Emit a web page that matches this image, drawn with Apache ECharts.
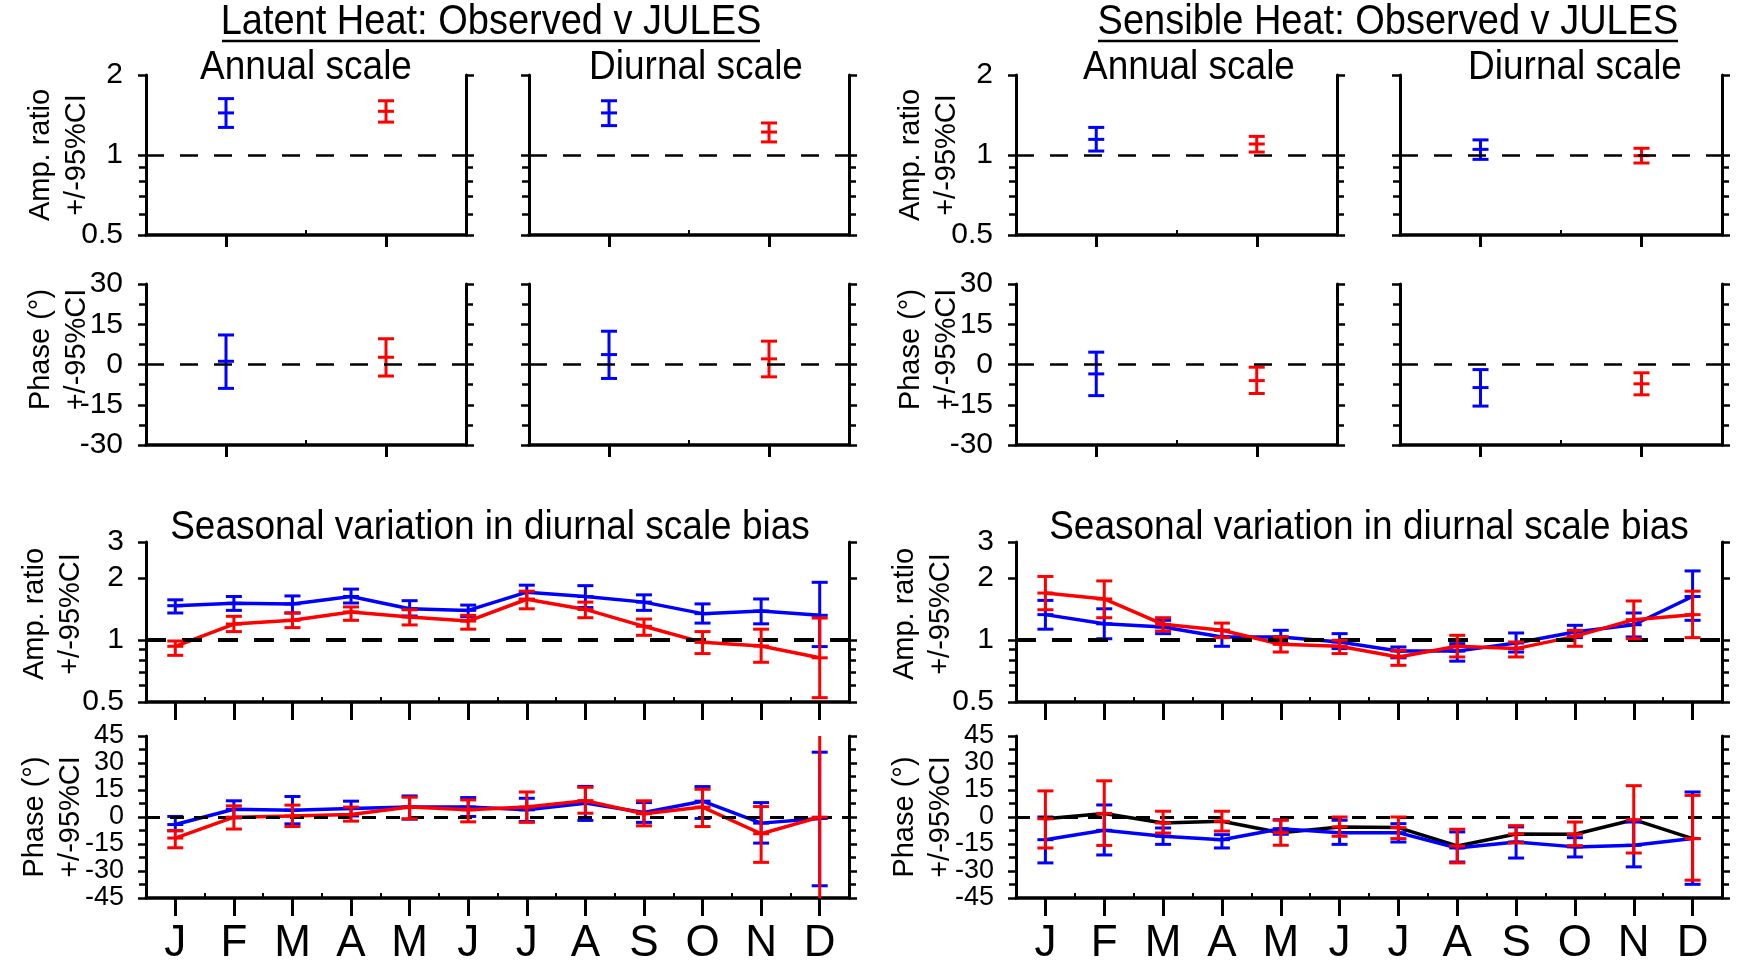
<!DOCTYPE html>
<html>
<head>
<meta charset="utf-8">
<script src="https://cdn.jsdelivr.net/npm/echarts@6/dist/echarts.min.js"></script>
<style>
html,body{margin:0;padding:0;background:#fff;}
#chart{width:1742px;height:963px;}
</style>
</head>
<body>
<div id="chart"></div>
<script>
// ---------------- DATA ----------------
const months = ['J','F','M','A','M','J','J','A','S','O','N','D'];
const topCats = ['Series 1','Series 2'];
const ampTicksTop = [0.5, 1, 2];
const ampTicksBottom = [0.5, 1, 2, 3];
const ampMinorTicks = [0.6, 0.7, 0.8, 0.9];
const phaseTicksTop = [-30, -15, 0, 15, 30];
const phaseTicksBottom = [-45, -30, -15, 0, 15, 30, 45];

// top panels: [centre, lower 95%CI, upper 95%CI]
const latAnnAmpBlue = [1.44, 1.27, 1.63];
const latAnnAmpRed  = [1.46, 1.33, 1.60];
const latDiuAmpBlue = [1.44, 1.29, 1.60];
const latDiuAmpRed  = [1.22, 1.12, 1.32];
const latAnnPhBlue  = [1.2, -8.9, 11.0];
const latAnnPhRed   = [2.7, -4.3, 9.6];
const latDiuPhBlue  = [3.7, -5.2, 12.4];
const latDiuPhRed   = [2.1, -4.6, 8.7];

const senAnnAmpBlue = [1.145, 1.035, 1.27];
const senAnnAmpRed  = [1.10, 1.026, 1.175];
const senDiuAmpBlue = [1.05, 0.963, 1.14];
const senDiuAmpRed  = [0.994, 0.933, 1.06];
const senAnnPhBlue  = [-3.5, -11.6, 4.6];
const senAnnPhRed   = [-6.0, -10.8, -1.0];
const senDiuPhBlue  = [-8.6, -15.5, -1.9];
const senDiuPhRed   = [-7.2, -11.3, -3.1];

// seasonal panels: per month [centre, lower, upper]
const latSeasAmpBlue = [[1.47,1.355,1.57],[1.51,1.395,1.63],[1.50,1.355,1.64],[1.63,1.515,1.77],[1.42,1.31,1.555],[1.395,1.30,1.48],[1.71,1.58,1.85],[1.63,1.44,1.84],[1.53,1.395,1.66],[1.345,1.21,1.50],[1.385,1.20,1.585],[1.32,0.93,1.91]];
const latSeasAmpRed  = [[0.933,0.843,0.99],[1.197,1.10,1.305],[1.248,1.15,1.355],[1.37,1.248,1.45],[1.295,1.185,1.405],[1.238,1.13,1.32],[1.58,1.42,1.73],[1.41,1.285,1.53],[1.167,1.055,1.266],[0.975,0.86,1.10],[0.936,0.78,1.13],[0.82,0.525,1.28]];
const latSeasPhBlue  = [[-4.2,-7.7,0.3],[4.3,-0.5,9.0],[3.8,-3.8,11.4],[4.7,0.6,8.8],[5.5,-1.2,11.7],[5.5,0.3,10.8],[4.0,-2.5,10.4],[7.7,-1.9,17.0],[2.5,-3.0,8.0],[8.8,-0.8,16.9],[-3.4,-14.5,8.0],[-0.8,-38.2,36.0]];
const latSeasPhRed   = [[-11.7,-17.1,-7.5],[-0.1,-6.7,6.2],[0.6,-5.3,6.6],[1.4,-2.3,5.5],[5.5,-1.0,11.0],[4.0,-2.7,9.5],[5.5,-3.0,13.9],[9.1,2.1,16.5],[1.8,-4.9,9.0],[5.5,-5.3,15.4],[-9.3,-25.2,5.8],[-0.1,-50,50]];

const senSeasAmpBlue = [[1.33,1.13,1.56],[1.20,1.015,1.42],[1.158,1.075,1.248],[1.036,0.933,1.116],[1.036,0.961,1.116],[0.979,0.909,1.075],[0.885,0.82,0.926],[0.884,0.79,0.961],[0.968,0.875,1.083],[1.095,1.028,1.18],[1.188,1.036,1.355],[1.63,1.248,2.17]];
const senSeasAmpRed  = [[1.694,1.405,2.04],[1.585,1.285,1.94],[1.193,1.107,1.285],[1.116,1.028,1.21],[0.954,0.875,1.036],[0.933,0.86,0.998],[0.828,0.754,0.892],[0.933,0.828,1.055],[0.909,0.828,0.979],[1.043,0.933,1.116],[1.257,1.015,1.55],[1.33,1.028,1.73]];
const senSeasPhBlue  = [[-12.6,-25.5,0],[-7.4,-21.1,6.7],[-10.7,-15.2,-6.1],[-12.6,-17.2,-9.8],[-6.5,-9.6,-1.5],[-8.7,-15.2,-1.8],[-8.7,-13.9,-3.7],[-17.2,-25.0,-8.3],[-13.9,-22.8,-5.5],[-16.6,-22.2,-11.5],[-15.7,-27.7,-2.8],[-12.0,-37.4,13.9]];
const senSeasPhRed   = [[-1.0,-17.2,14.5],[2.0,-15.8,20.1],[-3.3,-8.9,3.2],[-2.4,-7.8,3.2],[-8.7,-15.7,-1.8],[-5.5,-10.7,0],[-5.9,-12.0,0],[-16.1,-25.5,-6.8],[-9.4,-14.4,-4.8],[-9.6,-15.9,-2.8],[-1.5,-20.0,17.4],[-12.0,-35.1,12.0]];

// ---------------- STYLE ----------------
const FONT = "'Liberation Sans', Arial, sans-serif";
const NARROW = "'Liberation Sans Narrow', 'Arial Narrow', 'Liberation Sans', sans-serif";
const BLUE = '#0000ff', RED = '#ff0000', BLACK = '#000000';
const grids = [], xAxes = [], yAxes = [], series = [];

function errRender(color, cap) {
  return function (params, api) {
    const x = api.value(0);
    const c = api.coord([x, api.value(1)]);
    const lo = api.coord([x, api.value(2)]);
    const hi = api.coord([x, api.value(3)]);
    const s = { stroke: color, lineWidth: 3 };
    return {
      type: 'group',
      children: [
        { type: 'line', shape: { x1: c[0], y1: lo[1], x2: c[0], y2: hi[1] }, style: s },
        { type: 'line', shape: { x1: c[0] - cap, y1: lo[1], x2: c[0] + cap, y2: lo[1] }, style: s },
        { type: 'line', shape: { x1: c[0] - cap, y1: hi[1], x2: c[0] + cap, y2: hi[1] }, style: s },
        { type: 'line', shape: { x1: c[0] - cap, y1: c[1], x2: c[0] + cap, y2: c[1] }, style: s }
      ]
    };
  };
}

function panel(p) {
  const gi = grids.length;
  grids.push({ left: p.left, top: p.top, width: p.width, height: p.height, containLabel: false, outerBoundsMode: 'none' });
  const xi = xAxes.length;
  xAxes.push({
    type: 'category', gridIndex: gi, data: p.cats, boundaryGap: true, position: 'bottom',
    axisLine: { show: true, onZero: false, lineStyle: { color: BLACK, width: 3.5 } },
    axisTick: { show: true, interval: 0, alignWithLabel: true, length: p.xTickLen, lineStyle: { color: BLACK, width: 3 } },
    axisLabel: { show: !!p.xLabels, interval: 0, margin: 24, fontSize: 44, fontFamily: NARROW, color: BLACK },
    splitLine: { show: false }
  });
  xAxes.push({
    type: 'category', gridIndex: gi, data: p.cats, boundaryGap: true, position: 'bottom',
    axisLine: { show: false, onZero: false },
    axisTick: { show: true, interval: 0, inside: true, length: 5, lineStyle: { color: BLACK, width: 2 } },
    axisLabel: { show: false }, splitLine: { show: false }
  });
  const yi = yAxes.length;
  const lineOn = { show: true, onZero: false, lineStyle: { color: BLACK, width: 3 } };
  const tickSt = { color: BLACK, width: 2.5 };
  const nameCfg = p.yName ? {
    name: p.yName, nameLocation: 'middle', nameGap: p.nameGap, nameRotate: 90, nameMoveOverlap: false,
    nameTextStyle: { fontSize: 29, fontFamily: FONT, color: BLACK, lineHeight: 36, padding: p.namePad || 0 }
  } : {};
  const labelCfg = { show: !!p.yLabels, customValues: p.ticks, margin: p.labelMargin, fontSize: p.labelSize || 30,
    fontFamily: NARROW, color: BLACK, showMinLabel: true, showMaxLabel: true, hideOverlap: false };
  if (p.kind === 'amp') {
    const base = { type: 'log', logBase: 10, gridIndex: gi, min: 0.5, max: p.max, splitLine: { show: false } };
    yAxes.push(Object.assign({}, base, nameCfg, {
      position: 'left', axisLine: lineOn,
      axisTick: { show: true, customValues: p.ticks, length: 8, lineStyle: tickSt },
      axisLabel: labelCfg
    }));
    yAxes.push(Object.assign({}, base, { position: 'left', axisLine: { show: false, onZero: false },
      axisTick: { show: true, customValues: ampMinorTicks, length: 7, lineStyle: tickSt }, axisLabel: { show: false } }));
    yAxes.push(Object.assign({}, base, { position: 'right', axisLine: lineOn,
      axisTick: { show: true, customValues: p.ticks, length: 8, lineStyle: tickSt }, axisLabel: { show: false } }));
    yAxes.push(Object.assign({}, base, { position: 'right', axisLine: { show: false, onZero: false },
      axisTick: { show: true, customValues: ampMinorTicks, length: 7, lineStyle: tickSt }, axisLabel: { show: false } }));
  } else {
    const base = { type: 'value', gridIndex: gi, min: p.min, max: p.max, interval: 15, splitLine: { show: false },
      minorTick: { show: true, splitNumber: 2, length: 7, lineStyle: tickSt }, minorSplitLine: { show: false } };
    yAxes.push(Object.assign({}, base, nameCfg, {
      position: 'left', axisLine: lineOn,
      axisTick: { show: true, length: 8, lineStyle: tickSt },
      axisLabel: labelCfg
    }));
    yAxes.push(Object.assign({}, base, { position: 'right', axisLine: lineOn,
      axisTick: { show: true, length: 8, lineStyle: tickSt }, axisLabel: { show: false } }));
  }
  // reference (dashed) line
  series.push({
    type: 'line', xAxisIndex: xi, yAxisIndex: yi, data: p.cats.map(() => null), silent: true,
    markLine: { silent: true, symbol: ['none', 'none'], label: { show: false },
      lineStyle: { type: p.dash, color: BLACK, width: p.dashWidth },
      data: [{ yAxis: p.kind === 'amp' ? 1 : 0 }] }
  });
  return { xi, yi };
}

function errSeries(ax, rows, color, cap, z) {
  series.push({
    type: 'custom', xAxisIndex: ax.xi, yAxisIndex: ax.yi, clip: true, z: z || 3,
    renderItem: errRender(color, cap),
    encode: { x: 0, y: [1, 2, 3] },
    data: rows.map((r, i) => [i, r[0], r[1], r[2]])
  });
}
function topErr(ax, blue, red) {
  series.push({
    type: 'custom', xAxisIndex: ax.xi, yAxisIndex: ax.yi, clip: true, z: 3,
    renderItem: errRender(BLUE, 8), encode: { x: 0, y: [1, 2, 3] },
    data: [[0, blue[0], blue[1], blue[2]]]
  });
  series.push({
    type: 'custom', xAxisIndex: ax.xi, yAxisIndex: ax.yi, clip: true, z: 3,
    renderItem: errRender(RED, 8), encode: { x: 0, y: [1, 2, 3] },
    data: [[1, red[0], red[1], red[2]]]
  });
}
function lineSeries(ax, rows, color, z) {
  series.push({
    type: 'line', xAxisIndex: ax.xi, yAxisIndex: ax.yi, z: z || 2, symbol: 'none', silent: true,
    lineStyle: { color: color, width: 3.5 }, data: rows.map(r => r[0])
  });
}

// ---------------- PANELS ----------------
const ampName = 'Amp. ratio\n+/-95%CI';
const phName = 'Phase (\u00B0)\n+/-95%CI';
const dashTop = [18, 16];

let a;
// Latent, top
a = panel({ left: 146, top: 75, width: 320, height: 160, cats: topCats, xTickLen: 12, kind: 'amp', max: 2, ticks: ampTicksTop,
  yLabels: true, labelMargin: 23, yName: ampName, nameGap: 51, dash: dashTop, dashWidth: 2.5 });
topErr(a, latAnnAmpBlue, latAnnAmpRed);
a = panel({ left: 529, top: 75, width: 320, height: 160, cats: topCats, xTickLen: 12, kind: 'amp', max: 2, ticks: ampTicksTop,
  yLabels: false, dash: dashTop, dashWidth: 2.5 });
topErr(a, latDiuAmpBlue, latDiuAmpRed);
a = panel({ left: 146, top: 284, width: 320, height: 161, cats: topCats, xTickLen: 12, kind: 'phase', min: -30, max: 30, ticks: phaseTicksTop,
  yLabels: true, labelMargin: 23, yName: phName, nameGap: 51, namePad: [0, 0, 0, 30], dash: dashTop, dashWidth: 2.5 });
topErr(a, latAnnPhBlue, latAnnPhRed);
a = panel({ left: 529, top: 284, width: 320, height: 161, cats: topCats, xTickLen: 12, kind: 'phase', min: -30, max: 30, ticks: phaseTicksTop,
  yLabels: false, dash: dashTop, dashWidth: 2.5 });
topErr(a, latDiuPhBlue, latDiuPhRed);

// Sensible, top
a = panel({ left: 1016, top: 75, width: 321, height: 160, cats: topCats, xTickLen: 12, kind: 'amp', max: 2, ticks: ampTicksTop,
  yLabels: true, labelMargin: 23, yName: ampName, nameGap: 51, dash: dashTop, dashWidth: 2.5 });
topErr(a, senAnnAmpBlue, senAnnAmpRed);
a = panel({ left: 1400, top: 75, width: 322, height: 160, cats: topCats, xTickLen: 12, kind: 'amp', max: 2, ticks: ampTicksTop,
  yLabels: false, dash: dashTop, dashWidth: 2.5 });
topErr(a, senDiuAmpBlue, senDiuAmpRed);
a = panel({ left: 1016, top: 284, width: 321, height: 161, cats: topCats, xTickLen: 12, kind: 'phase', min: -30, max: 30, ticks: phaseTicksTop,
  yLabels: true, labelMargin: 23, yName: phName, nameGap: 51, namePad: [0, 0, 0, 30], dash: dashTop, dashWidth: 2.5 });
topErr(a, senAnnPhBlue, senAnnPhRed);
a = panel({ left: 1400, top: 284, width: 322, height: 161, cats: topCats, xTickLen: 12, kind: 'phase', min: -30, max: 30, ticks: phaseTicksTop,
  yLabels: false, dash: dashTop, dashWidth: 2.5 });
topErr(a, senDiuPhBlue, senDiuPhRed);

// Seasonal, latent
a = panel({ left: 146, top: 542, width: 703, height: 160, cats: months, xTickLen: 18, kind: 'amp', max: 3, ticks: ampTicksBottom,
  yLabels: true, labelMargin: 22, yName: ampName, nameGap: 57, namePad: [0, 0, 0, 16], dash: [20, 16], dashWidth: 4 });
lineSeries(a, latSeasAmpBlue, BLUE, 2); lineSeries(a, latSeasAmpRed, RED, 4);
errSeries(a, latSeasAmpBlue, BLUE, 8, 3); errSeries(a, latSeasAmpRed, RED, 8, 5);
a = panel({ left: 146, top: 736, width: 703, height: 162, cats: months, xTickLen: 18, xLabels: true, kind: 'phase', min: -45, max: 45, ticks: phaseTicksBottom,
  yLabels: true, labelSize: 27, labelMargin: 22, yName: phName, nameGap: 57, dash: [14, 10], dashWidth: 3 });
lineSeries(a, latSeasPhBlue, BLUE, 2); lineSeries(a, latSeasPhRed, RED, 4);
errSeries(a, latSeasPhBlue, BLUE, 8, 3); errSeries(a, latSeasPhRed, RED, 8, 5);

// Seasonal, sensible
a = panel({ left: 1016, top: 542, width: 706, height: 160, cats: months, xTickLen: 18, kind: 'amp', max: 3, ticks: ampTicksBottom,
  yLabels: true, labelMargin: 22, yName: ampName, nameGap: 57, namePad: [0, 0, 0, 16], dash: [20, 16], dashWidth: 4 });
lineSeries(a, senSeasAmpBlue, BLUE, 2); lineSeries(a, senSeasAmpRed, RED, 4);
errSeries(a, senSeasAmpBlue, BLUE, 8, 3); errSeries(a, senSeasAmpRed, RED, 8, 5);
a = panel({ left: 1016, top: 736, width: 706, height: 162, cats: months, xTickLen: 18, xLabels: true, kind: 'phase', min: -45, max: 45, ticks: phaseTicksBottom,
  yLabels: true, labelSize: 27, labelMargin: 22, yName: phName, nameGap: 57, dash: [14, 10], dashWidth: 3 });
lineSeries(a, senSeasPhRed, BLACK, 2); lineSeries(a, senSeasPhBlue, BLUE, 3);
errSeries(a, senSeasPhBlue, BLUE, 8, 4); errSeries(a, senSeasPhRed, RED, 8, 5);

// ---------------- TITLES ----------------
function txt(x, y, s, size) {
  return { type: 'text', x: x, y: y, z: 10, scaleY: 1.12,
    style: { text: s, font: size + 'px ' + FONT, fill: BLACK, textAlign: 'center', textVerticalAlign: 'middle' } };
}
const graphics = [
  txt(491, 22, 'Latent Heat: Observed v JULES', 38),
  { type: 'line', shape: { x1: 222, y1: 41, x2: 760, y2: 41 }, style: { stroke: BLACK, lineWidth: 2.5 } },
  txt(1388, 22, 'Sensible Heat: Observed v JULES', 38),
  { type: 'line', shape: { x1: 1098, y1: 41, x2: 1678, y2: 41 }, style: { stroke: BLACK, lineWidth: 2.5 } },
  txt(306, 68, 'Annual scale', 37),
  txt(696, 68, 'Diurnal scale', 37),
  txt(1189, 68, 'Annual scale', 37),
  txt(1575, 68, 'Diurnal scale', 37),
  txt(490, 528, 'Seasonal variation in diurnal scale bias', 37),
  txt(1369, 528, 'Seasonal variation in diurnal scale bias', 37)
];

const chart = echarts.init(document.getElementById('chart'), null, { renderer: 'canvas' });
chart.setOption({
  animation: false,
  backgroundColor: '#ffffff',
  grid: grids,
  xAxis: xAxes,
  yAxis: yAxes,
  series: series,
  graphic: graphics
});
</script>
</body>
</html>
